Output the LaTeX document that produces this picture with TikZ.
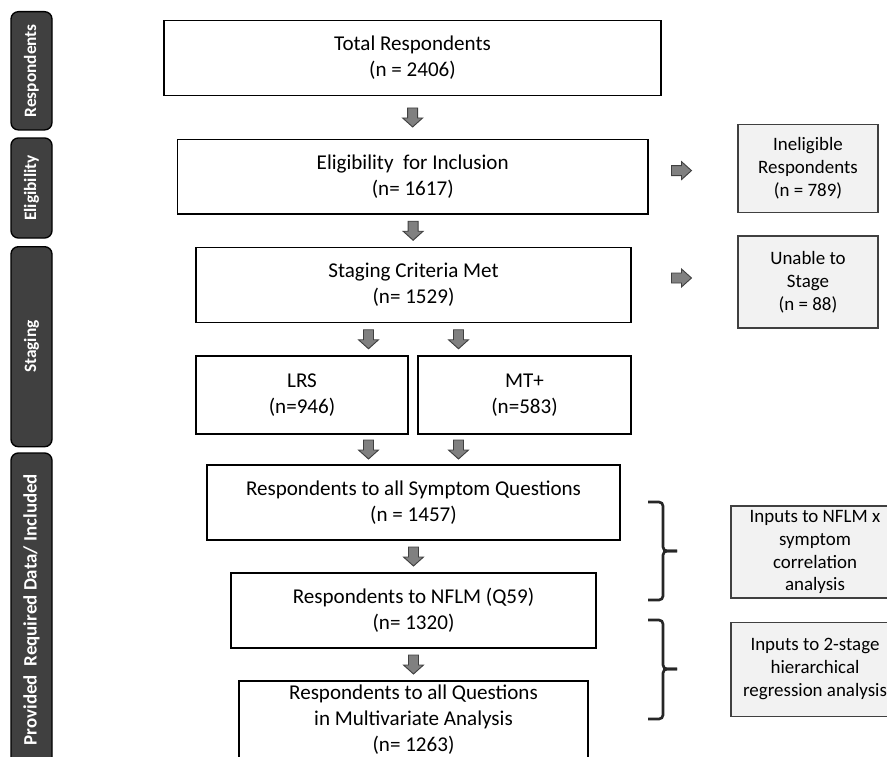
\documentclass[tikz,border=0pt]{standalone}
\usepackage{fontspec}
\setmainfont{Carlito}
\usetikzlibrary{calc}

\tikzset{
	dnarr/.pic={\path[blk] (-5,-9.5) -- (5,-9.5) -- (5,0.5) -- (10,0.5) -- (0,9.5) -- (-10,0.5) -- (-5,0.5) -- cycle;},
	rtarr/.pic={\path[blk] (-10,-5) -- (0,-5) -- (0,-9) -- (10,0) -- (0,9) -- (0,5) -- (-10,5) -- cycle;}
}

\begin{document}
\begin{tikzpicture}[x=0.75pt,y=-0.75pt,
	box/.style={draw=black,line width=1.1pt,fill=white,align=center,inner sep=0pt,font=\fontsize{15.8}{19.5}\selectfont},
	side/.style={draw=black!75,line width=0.8pt,fill=black!5,align=center,inner sep=0pt,font=\fontsize{14.2}{17.2}\selectfont},
	tab/.style={draw=black,line width=1pt,fill=black!75,rounded corners=5.5pt,rotate=90,text=white,inner sep=0pt,font=\fontsize{13}{15}\selectfont\bfseries},
	blk/.style={draw=black!75,line width=0.7pt,fill=black!50},
	brk/.style={draw=black!85,line width=2pt,rounded corners=3pt}]
		\useasboundingbox (0,0) rectangle (887,756);
		\clip (0,0) rectangle (887,756);
		\node[tab,minimum width=88.7pt,minimum height=30.75pt] (tresp) at (31.5,70.8) {Respondents};
		\node[tab,minimum width=75pt,minimum height=30.75pt] (telig) at (31.5,188) {Eligibility};
		\node[tab,minimum width=150pt,minimum height=30.75pt] (tstag) at (31.5,346.7) {Staging};
		\node[tab,minimum width=234.75pt,minimum height=30.75pt,font=\fontsize{14.2}{16}\selectfont\bfseries] (tincl) at (31.5,609.5) {Provided\ \ Required Data/ Included};
		\node[box,minimum width=372.75pt,minimum height=56.2pt] (tot) at (412.5,58) {Total Respondents\\(n = 2406)};
		\node[box,minimum width=352.9pt,minimum height=55.9pt] (elig) at (412.75,176.75) {Eligibility\ \ for Inclusion\\(n= 1617)};
		\node[box,minimum width=326.25pt,minimum height=56.3pt] (stag) at (413.5,285) {Staging Criteria Met\\(n= 1529)};
		\node[box,minimum width=159pt,minimum height=58.5pt] (lrs) at (302,395) {LRS\\(n=946)};
		\node[box,minimum width=159.75pt,minimum height=58.5pt] (mt) at (524.5,395) {MT+\\(n=583)};
		\node[box,minimum width=309.75pt,minimum height=56.25pt] (sym) at (413.5,502.5) {Respondents to all Symptom Questions\\(n = 1457)};
		\node[box,minimum width=273.75pt,minimum height=56.25pt] (nflm) at (413.5,610.5) {Respondents to NFLM (Q59)\\(n= 1320)};
		\node[box,minimum width=261.75pt,minimum height=67.5pt] (mult) at (413.5,726) {};
		\node[align=center,inner sep=0pt,font=\fontsize{15.8}{19.5}\selectfont] (multtxt) at ($(mult.center)+(0,-6)$) {Respondents to all Questions\\in Multivariate Analysis\\(n= 1263)};
		\node[side,minimum width=105pt,minimum height=66pt] (inel) at (808,168.6) {Ineligible\\Respondents\\(n = 789)};
		\node[side,minimum width=105pt,minimum height=69pt] (unab) at (808,282) {Unable to\\Stage\\(n = 88)};
		\node[side,minimum width=126pt,minimum height=69pt] (inp1) at (815,552) {Inputs to NFLM x\\symptom\\correlation\\analysis};
		\node[side,minimum width=126pt,minimum height=70pt] (inp2) at (815,669.4) {Inputs to 2-stage\\hierarchical\\regression analysis};
		\coordinate (gapa) at ($(stag.south)!0.5!(stag.south |- lrs.north)$);
		\coordinate (gapb) at ($(sym.north |- lrs.south)!0.5!(sym.north)$);
		\pic at ($(tot.south)!0.5!(elig.north)$) {dnarr};
		\pic at ($(elig.south)!0.5!(stag.north)$) {dnarr};
		\pic at ($(gapa)+(-45,0)$) {dnarr};
		\pic at ($(gapa)+(45,0)$) {dnarr};
		\pic at ($(gapb)+(-45,0)$) {dnarr};
		\pic at ($(gapb)+(45,0)$) {dnarr};
		\pic at ($(sym.south)!0.5!(nflm.north)$) {dnarr};
		\pic at ($(nflm.south)!0.5!(mult.north)$) {dnarr};
		\pic at ($(inel.west)+(-56,2)$) {rtarr};
		\pic at ($(unab.west)+(-56,-4)$) {rtarr};
		\draw[brk] (648,502) -| (663,551) -- (677,551);
		\draw[brk] (677,551) -- (663,551) |- (648,600);
		\draw[brk] (648,620) -| (663,669) -- (677,669);
		\draw[brk] (677,669) -- (663,669) |- (648,719);
\end{tikzpicture}
\end{document}
